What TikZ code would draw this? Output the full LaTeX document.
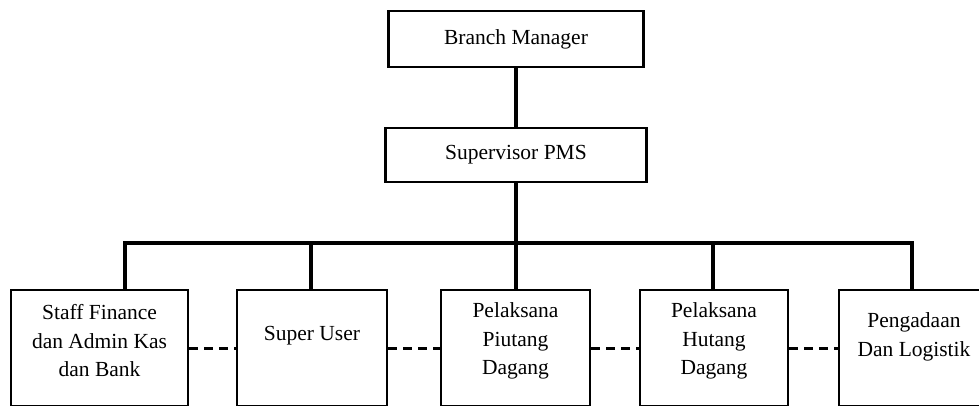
\documentclass[tikz,border=0pt]{standalone}
\usepackage{fontspec}
\setmainfont{Liberation Serif}

\begin{document}
\begin{tikzpicture}[x=1pt, y=-1pt,
    box/.style={draw, line width=2.5pt, inner sep=0pt},
    txt/.style={align=center, font=\fontsize{21.5}{28.5}\selectfont},
    link/.style={line width=4.5pt, line join=miter},
    peer/.style={line width=3pt, dash pattern=on 9pt off 6pt}]
    \useasboundingbox (0, 0) rectangle (979, 406);
    \clip (0, 0) rectangle (979, 406);

    \node [box, txt, minimum width=255, minimum height=56] (bm) at (516, 39) {Branch Manager};
    \node [box, txt, minimum width=261, minimum height=54] (spv) at (516, 155) {Supervisor PMS};

    \node [box, minimum width=177, minimum height=116] (staff) at (99.5, 348) {};
    \node [box, minimum width=150, minimum height=116] (su) at (312, 348) {};
    \node [box, minimum width=149, minimum height=116] (piutang) at (515.5, 348) {};
    \node [box, minimum width=148, minimum height=116] (hutang) at (714, 348) {};
    \node [box, minimum width=170, minimum height=116] (logistik) at (924, 348) {};

    \node [txt] (tstaff) at ([yshift=7]staff.center) {Staff Finance\\dan Admin Kas\\dan Bank};
    \node [txt] (tsu) at ([yshift=12]su.center) {Super User};
    \node [txt] (tpiutang) at ([yshift=7]piutang.center) {Pelaksana\\Piutang\\Dagang};
    \node [txt] (thutang) at ([yshift=7]hutang.center) {Pelaksana\\Hutang\\Dagang};
    \node [txt] (tlogistik) at ([xshift=-10, yshift=11]logistik.center) {Pengadaan\\Dan Logistik};

    \coordinate (b1) at (125, 243);
    \coordinate (b2) at (311, 243);
    \coordinate (b3) at (516, 243);
    \coordinate (b4) at (713, 243);
    \coordinate (b5) at (912, 243);

    \draw [link] (bm.south) -- (spv.north);
    \draw [link] (spv.south) -- (b3);
    \draw [link] (b1 |- staff.north) -- (b1) -- (b5) -- (b5 |- logistik.north);
    \draw [link] (b2) -- (b2 |- su.north);
    \draw [link] (b3) -- (b3 |- piutang.north);
    \draw [link] (b4) -- (b4 |- hutang.north);

    \draw [peer] (staff.east) -- (su.west);
    \draw [peer] (su.east) -- (piutang.west);
    \draw [peer] (piutang.east) -- (hutang.west);
    \draw [peer] (hutang.east) -- (logistik.west);
\end{tikzpicture}
\end{document}
